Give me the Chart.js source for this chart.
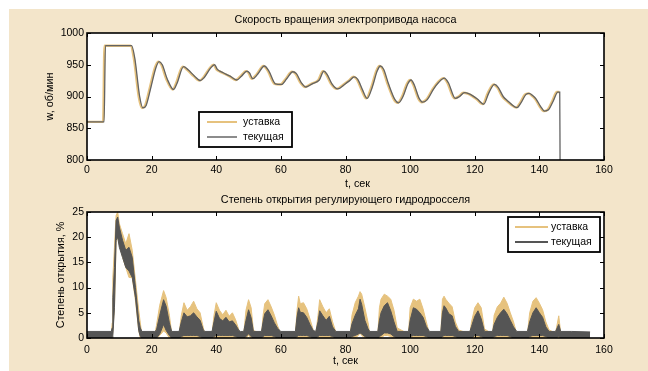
<!DOCTYPE html>
<html><head><meta charset="utf-8">
<script src="https://cdn.jsdelivr.net/npm/chart.js@4.4.1/dist/chart.umd.min.js"></script>
<style>
html,body{margin:0;padding:0;background:#fff;width:648px;height:371px;overflow:hidden;}
#bg{position:absolute;left:9px;top:9px;width:639px;height:362px;background:#F3E5CA;}
#c1{position:absolute;left:9px;top:9px;}
#c2{position:absolute;left:9px;top:192px;}
</style></head>
<body>
<div id="bg"></div>
<canvas id="c1" width="639" height="183"></canvas>
<canvas id="c2" width="639" height="179"></canvas>
<script>
// ---------- Tick labels ----------
const xTicks = [0,20,40,60,80,100,120,140,160];
const wTicks = [800,850,900,950,1000];
const openTicks = [0,5,10,15,20,25];

// ---------- Top chart: pump drive speed ----------
const tSetW = [0,5.0,5.4,13.5,14.5,16,17,18,19.5,21,22,23,24.5,26.5,27.5,29.6,31,33,34.8,36,38,39.2,40,40.8,42,44,46,47.5,49.2,50,51,52.5,54.6,56,58,59.9,61.5,63.4,64.5,66,67.5,69.4,71.6,73,74,75.5,77.3,79.4,81,82.4,83.5,85,86.4,88,89.5,90.5,91.5,93,95,96.1,97.5,99,100,101,102.5,103.6,105,107,108.5,110.3,111.5,113.7,115,116.5,118,119.1,120.5,122.5,124,125.8,127,128.5,129.9,131,132.8,134,135.5,136.6,137.5,138.7,140,141.3,142.5,144,145.4,146.2];
const wSet = [860,860,980,980,960,900,882,886,915,945,955,950,928,911,920,947,942,932,925,930,945,950,943,940,937,932,926,932,940,937,928,935,948,940,920,919,928,939,936,922,915,920,926,940,935,920,912,919,925,931,927,910,897,915,940,948,943,920,895,890,900,920,926,918,897,891,895,912,922,929,922,897,900,906,904,901,896,888,905,919,914,900,893,888,882.5,890,903,905,902,896,885,877,879,893,907,907];

const tCurW = [0,5.3,5.7,13.8,14.8,16.3,17.3,18.3,19.8,21.3,22.3,23.3,24.8,26.8,27.8,29.9,31.3,33.3,35.1,36.3,38.3,39.5,40.3,41.1,42.3,44.3,46.3,47.8,49.5,50.3,51.3,52.8,54.9,56.3,58.3,60.2,61.8,63.7,64.8,66.3,67.8,69.7,71.9,73.3,74.3,75.8,77.6,79.7,81.3,82.7,83.8,85.3,86.7,88.3,89.8,90.8,91.8,93.3,95.3,96.4,97.8,99.3,100.3,101.3,102.8,103.9,105.3,107.3,108.8,110.6,111.8,114,115.3,116.8,118.3,119.4,120.8,122.8,124.3,126.1,127.3,128.8,130.2,131.3,133.1,134.3,135.8,136.9,137.8,139,140.3,141.6,142.8,144.3,145.7,146.3,146.4];
const wCur = [860,860,980,980,960,900,882,886,915,945,955,950,928,911,920,947,942,932,925,930,945,950,943,940,937,932,926,932,940,937,928,935,948,940,920,919,928,939,936,922,915,920,926,940,935,920,912,919,925,931,927,910,897,915,940,948,943,920,895,890,900,920,926,918,897,891,895,912,922,929,922,897,900,906,904,901,896,888,905,919,914,900,893,888,882.5,890,903,905,902,896,885,877,879,893,907,907,800];

// ---------- Bottom chart: throttle opening (noise band envelopes) ----------
const tB = [
 0,7.5,7.8,8,8.5,9,9.5,10,11,12,
 13,14,15,16,16.5,17,21,21.5,22.5,23.7,
 24.5,25.5,26.2,28.5,29.2,30,31,32,33,34,
 35,36,36.5,38.7,39.3,40,41,42,43,44,
 45,46,47,47.5,48.5,49.2,50,50.8,51.5,54,
 54.5,55,56,57,58,59,60,64.5,65,65.5,
 66,67,68,69,70,70.8,71.5,72,73,74,
 75,76,77,81.5,82,83,84,84.5,85,86,
 87,87.5,90,90.5,91,92,93,94,95,96,
 99.5,100,101,102,103,104,105,106,109.5,110,
 110.5,111,112,113,114,115,118.5,119,120,121,
 122,123,125.5,126,127,128,129,130,131,132,
 133,136.3,137,138,139,140,141,142,143,145,
 146,146.6,150,155.7];
const setHi = [
 .8,.8,3,12,18,24.3,25,22.7,20.7,18.7,
 20.7,17.4,11.4,5.5,3,.5,.8,2.5,6.5,9.4,
 8,4.5,1,.8,4.5,7,5.5,6.2,7.3,5.8,
 5,2,.8,.8,4.5,7,5.5,4.6,5.5,4.3,
 5,3.6,1.6,.8,.8,5.5,7.6,6,1.5,.8,
 4.5,6.8,7.6,6.2,4.5,2.4,.8,.8,5.5,8.3,
 6.8,7,5.8,3.8,1.6,.8,4.5,7.6,6.2,5,
 5.8,3.2,1.2,.8,4.5,7,8.3,9.2,8.7,6,
 3,.8,.8,6,7.7,8.7,8.3,7.7,5.5,2,
 .8,6,7.7,7.3,7.7,5.8,3.2,.8,.8,7.7,
 8.3,7.7,6.9,6.2,3.2,1.6,.8,3.2,6,7,
 6,1.8,.8,4.5,6.2,6.9,8.1,6.9,5,3.2,
 .8,.8,5,7.3,8,6.9,5.6,3.2,1.6,1,
 4.4,1,null,null];
const setLo = [
 0,0,0,0,6,19,20,18.7,16,14,
 12,12,7.4,1.5,0,0,0,0,.5,1.4,
 1,0,0,0,0,0,0,0,0,0,
 0,0,0,0,0,0,0,0,0,0,
 0,0,0,0,0,0,.5,0,0,0,
 0,0,0,0,0,0,0,0,0,0,
 0,0,0,0,0,0,0,0,0,0,
 0,0,0,0,0,0,.5,1,.5,0,
 0,0,0,0,0,.5,.5,.3,0,0,
 0,0,0,0,0,0,0,0,0,0,
 0,0,0,0,0,0,0,0,0,0,
 0,0,0,0,0,0,0,0,0,0,
 0,0,0,0,0,0,0,0,0,0,
 0,0,null,null];
const curHi = [
 1.3,1.3,2,8,14,23.3,24,22,19.4,17.4,
 18,16,10,3.5,2,1.3,1.3,1.6,4.5,7.6,
 6.3,3,1.3,1.3,3.2,5,4.2,4.4,5,4.2,
 3.5,1.6,1.3,1.3,3.2,5.3,3.9,3.4,4.1,3.2,
 3.4,2.6,1.5,1.3,1.3,3.5,5.6,4,1.3,1.3,
 3.2,4.8,5.6,4.4,3,1.9,1.3,1.3,4.2,6,
 5.1,5,4.1,2.7,1.5,1.3,3.2,5.4,4.4,3.5,
 4.3,2.2,1.3,1.3,2.8,4.5,5.8,7.7,6.7,3.5,
 1.8,1.3,1.3,3.5,5,6.4,7,5.4,3.2,1.3,
 1.3,3.5,6,5.7,5,4.1,2.3,1.3,1.3,5,
 6.4,6,4.8,4.4,2.3,1.3,1.3,2.3,4.3,5.4,
 3.8,1.3,1.3,2.7,4.1,5,5.7,4.8,3.5,2.2,
 1.3,1.3,3.2,5,6,5,4.1,2.2,1.3,1.3,
 2.7,1.3,1.3,1.2];
const curLo = [
 0,0,0,.5,6,19.4,20,18,16,14,
 13.3,12,8,1.5,.3,0,0,0,.8,2.7,
 1.5,.5,0,0,.3,.5,.5,.5,.5,.5,
 .3,0,0,0,.3,.5,.5,.5,.5,.5,
 .5,.3,0,0,0,.3,.8,.3,0,0,
 .3,.5,.5,.5,.3,0,0,0,.3,.5,
 .5,.5,.5,.3,0,0,.3,.5,.5,.5,
 .5,.3,0,0,.3,.5,.8,1,.8,.3,
 0,0,0,.3,.5,1,1,.8,.3,0,
 0,.3,.5,.5,.5,.5,.3,0,0,.3,
 .5,.5,.5,.5,.3,0,0,0,.5,.5,
 .3,0,0,.3,.5,.5,.5,.5,.3,0,
 0,0,.3,.5,.5,.5,.5,.3,0,0,
 .3,0,0,0];

const labels = ['уставка','текущая'];
const xTitle = 't, сек';
const titles = ['Скорость вращения электропривода насоса', 'Степень открытия регулирующего гидродросселя'];
const yTitles = ['w, об/мин', 'Степень открытия, %'];
const YEL = '#E6C27E';
const GRY = '#636363';
const DGRY = '#555555';
const FONT = "'Liberation Sans', Arial, sans-serif";

const pts = (xs, ys) => xs.map((x, i) => ({x: x, y: ys[i]}));

function centeredText(ctx, text, x, y) {
  ctx.save();
  ctx.font = '10.8px ' + FONT;
  ctx.fillStyle = '#000';
  ctx.textAlign = 'center'; ctx.textBaseline = 'middle';
  ctx.fillText(text, x, y);
  ctx.restore();
}

const matlabAxes = {
  id: 'matlabAxes',
  beforeDraw(chart) {
    const {ctx, chartArea: a} = chart;
    ctx.save(); ctx.fillStyle = '#fff';
    ctx.fillRect(a.left, a.top, a.width, a.height); ctx.restore();
  },
  afterDatasetsDraw(chart) {
    const {ctx, chartArea: a, scales} = chart;
    ctx.save();
    ctx.strokeStyle = '#000'; ctx.lineWidth = 1;
    const L = 4;
    ctx.beginPath();
    scales.x.ticks.forEach(t => {
      const p = Math.round(scales.x.getPixelForValue(t.value)) + 0.5;
      ctx.moveTo(p, a.bottom); ctx.lineTo(p, a.bottom - L);
      ctx.moveTo(p, a.top); ctx.lineTo(p, a.top + L);
    });
    scales.y.ticks.forEach(t => {
      const p = Math.round(scales.y.getPixelForValue(t.value)) + 0.5;
      ctx.moveTo(a.left, p); ctx.lineTo(a.left + L, p);
      ctx.moveTo(a.right, p); ctx.lineTo(a.right - L, p);
    });
    ctx.stroke();
    ctx.lineWidth = 1.6;
    ctx.strokeRect(a.left, a.top, a.width, a.height);
    ctx.restore();
  },
  afterDraw(chart) {
    const ctx = chart.ctx;
    const a = chart.chartArea;
    const cx = (a.left + a.right) / 2;
    const tt = chart.options.plugins.axTitles;
    if (tt) {
      centeredText(ctx, tt.title, cx, tt.titleY);
      centeredText(ctx, tt.xText, cx + tt.xDx, tt.xY);
    }
    const o = chart.options.plugins.boxLegend;
    if (!o) return;
    ctx.save();
    ctx.fillStyle = '#fff';
    ctx.fillRect(o.x, o.y, o.w, o.h);
    ctx.strokeStyle = '#000'; ctx.lineWidth = 1.8;
    ctx.strokeRect(o.x, o.y, o.w, o.h);
    ctx.font = '10.5px ' + FONT;
    ctx.textBaseline = 'middle';
    o.items.forEach((it, i) => {
      const y = o.y + o.rowY[i];
      ctx.strokeStyle = it.color; ctx.lineWidth = it.width;
      ctx.beginPath(); ctx.moveTo(o.x + o.lx0, y); ctx.lineTo(o.x + o.lx1, y); ctx.stroke();
      ctx.fillStyle = '#000';
      ctx.fillText(it.label, o.x + o.tx, y);
    });
    ctx.restore();
  }
};

function scalesCfg(ymin, ymax, yList, yTitle, yWidth, xHeight, xTickPad) {
  return {
    x: {
      type: 'linear', min: 0, max: 160,
      afterBuildTicks: s => { s.ticks = xTicks.map(v => ({value: v})); },
      grid: {display: false, drawTicks: false},
      border: {display: false},
      ticks: {color: '#000', font: {family: FONT, size: 10.5}, padding: xTickPad, maxRotation: 0, callback: v => String(v)},
      title: {display: false},
      afterFit: s => { s.height = xHeight; }
    },
    y: {
      type: 'linear', min: ymin, max: ymax,
      afterBuildTicks: s => { s.ticks = yList.map(v => ({value: v})); },
      grid: {display: false, drawTicks: false},
      border: {display: false},
      ticks: {color: '#000', font: {family: FONT, size: 10.5}, padding: 3, callback: v => String(v)},
      title: {display: true, text: yTitle, color: '#000', font: {family: FONT, size: 10.8}, padding: 0},
      afterFit: s => { s.width = yWidth; }
    }
  };
}

new Chart(document.getElementById('c1'), {
  type: 'line',
  data: {
    datasets: [
      {label: labels[1], data: pts(tCurW, wCur), borderColor: GRY, borderWidth: 1.3, pointRadius: 0, cubicInterpolationMode: 'monotone', order: 0},
      {label: labels[0], data: pts(tSetW, wSet), borderColor: YEL, borderWidth: 2.4, pointRadius: 0, cubicInterpolationMode: 'monotone', order: 1}
    ]
  },
  options: {
    responsive: false, animation: false, devicePixelRatio: 1,
    layout: {padding: {left: 35, right: 44, top: 24, bottom: 0}},
    scales: scalesCfg(800, 1000, wTicks, yTitles[0], 43, 32, 4),
    plugins: {
      legend: {display: false}, tooltip: {enabled: false}, title: {display: false},
      axTitles: {title: titles[0], titleY: 11, xText: xTitle, xDx: 12, xY: 175},
      boxLegend: {x: 190, y: 103, w: 93, h: 35, lx0: 8, lx1: 38, tx: 44, rowY: [10, 25],
        items: [{label: labels[0], color: YEL, width: 2}, {label: labels[1], color: '#8c8c8c', width: 2}]}
    }
  },
  plugins: [matlabAxes]
});

new Chart(document.getElementById('c2'), {
  type: 'line',
  data: {
    datasets: [
      {label: 'setLo', data: pts(tB, setLo), borderColor: YEL, borderWidth: 1, pointRadius: 0, fill: false, order: 3},
      {label: labels[0], data: pts(tB, setHi), borderColor: YEL, backgroundColor: YEL, borderWidth: 1, pointRadius: 0, fill: '-1', order: 2},
      {label: 'curLo', data: pts(tB, curLo), borderColor: DGRY, borderWidth: 1, pointRadius: 0, fill: false, order: 1},
      {label: labels[1], data: pts(tB, curHi), borderColor: DGRY, backgroundColor: DGRY, borderWidth: 1, pointRadius: 0, fill: '-1', order: 0}
    ]
  },
  options: {
    responsive: false, animation: false, devicePixelRatio: 1,
    layout: {padding: {left: 46, right: 44, top: 20, bottom: 0}},
    scales: scalesCfg(0, 25, openTicks, yTitles[1], 32, 33, 5.5),
    plugins: {
      legend: {display: false}, tooltip: {enabled: false}, title: {display: false},
      axTitles: {title: titles[1], titleY: 8, xText: xTitle, xDx: 0, xY: 169},
      boxLegend: {x: 499, y: 25, w: 92, h: 35, lx0: 7, lx1: 40, tx: 43, rowY: [10, 25],
        items: [{label: labels[0], color: YEL, width: 2}, {label: labels[1], color: DGRY, width: 2}]}
    }
  },
  plugins: [matlabAxes]
});
</script>
</body></html>
